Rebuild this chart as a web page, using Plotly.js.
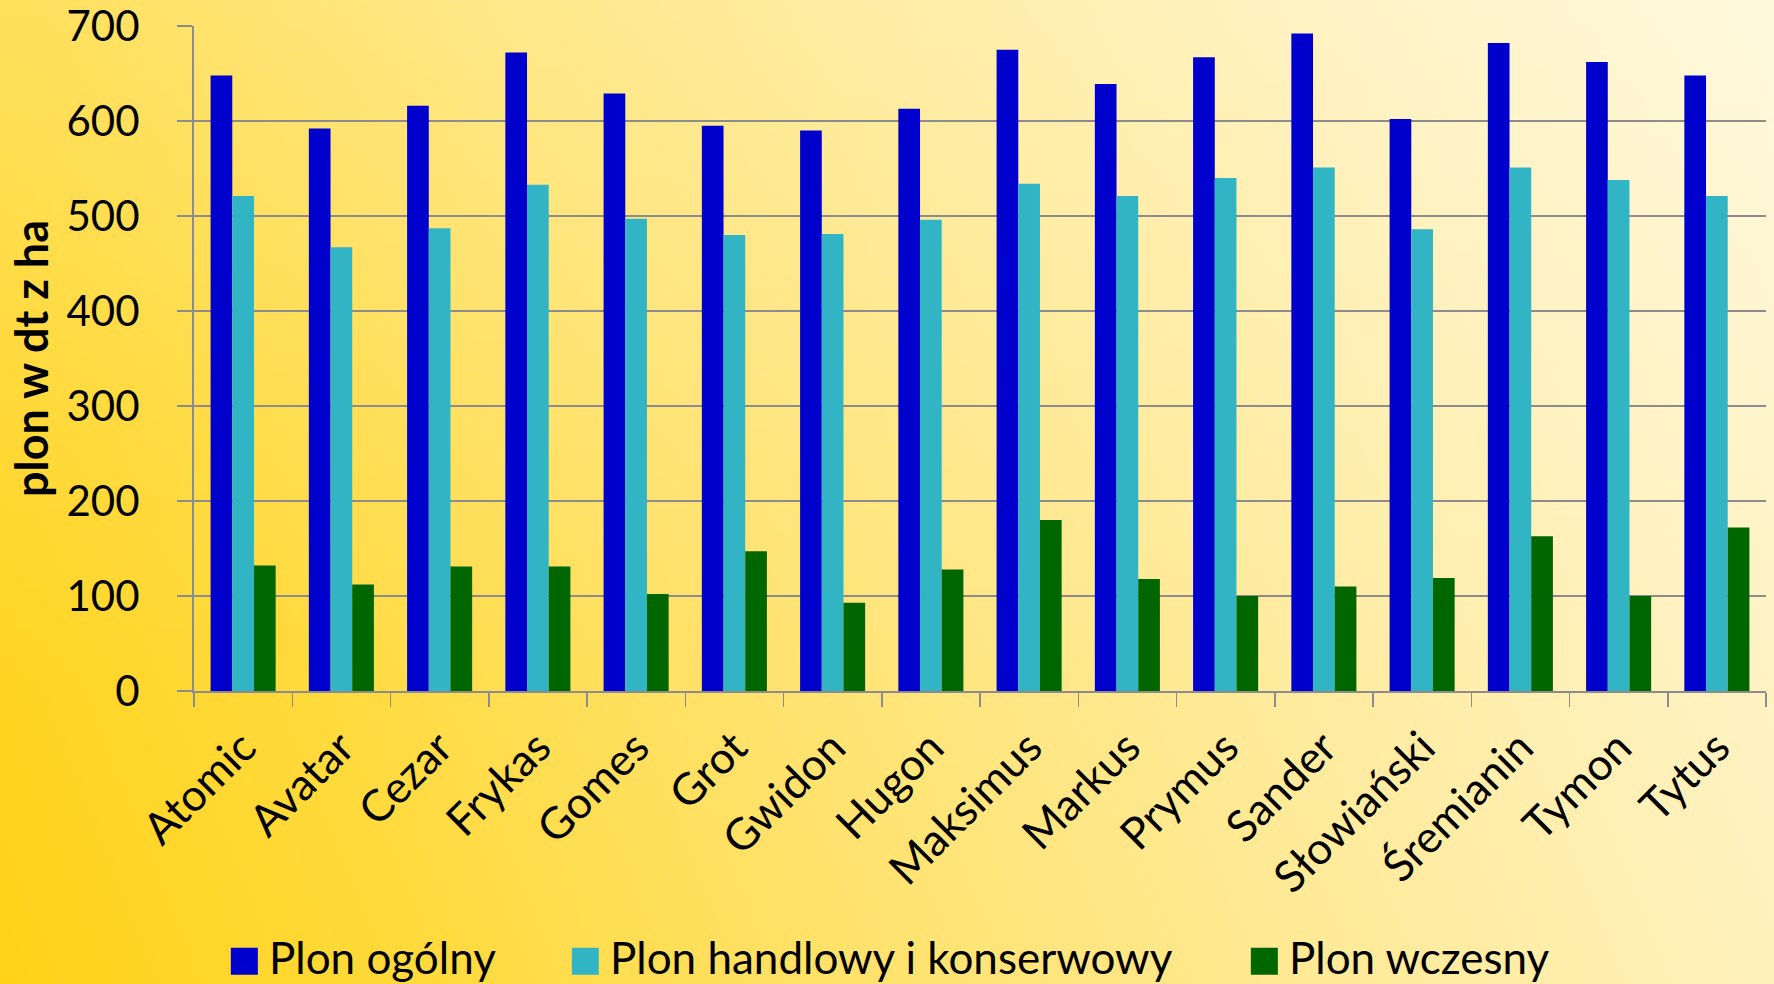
<!DOCTYPE html>
<html>
<head>
<meta charset="utf-8">
<script src="https://cdn.plot.ly/plotly-3.0.1.min.js"></script>
<style>
  html, body { margin: 0; padding: 0; width: 1774px; height: 984px; overflow: hidden; }
  body {
    background:
      linear-gradient(to bottom, rgba(255,255,255,0.18) 0%, rgba(255,255,255,0.05) 45%, rgba(255,255,255,0) 70%),
      linear-gradient(68deg, #FFD218 0%, #FFDA3C 20%, #FFE26C 40%, #FFEA98 62%, #FFF1BC 82%, #FFF6D4 100%);
  }
  #chart { width: 1774px; height: 984px; }
</style>
</head>
<body>
<div id="chart"></div>
<script>
const categories = ["Atomic", "Avatar", "Cezar", "Frykas", "Gomes", "Grot", "Gwidon", "Hugon",
  "Maksimus", "Markus", "Prymus", "Sander", "Słowiański", "Śremianin", "Tymon", "Tytus"];
const seriesNames = ["Plon ogólny", "Plon handlowy i konserwowy", "Plon wczesny"];
const plonOgolny = [648, 592, 616, 672, 629, 595, 590, 613, 675, 639, 667, 692, 602, 682, 662, 648];
const plonHandlowy = [521, 467, 487, 533, 497, 480, 481, 496, 534, 521, 540, 551, 486, 551, 538, 521];
const plonWczesny = [132, 112, 131, 131, 102, 147, 93, 128, 180, 118, 100, 110, 119, 163, 100, 172];
const yTitle = "plon w dt z ha";

const FONT = "Lato, 'Open Sans', sans-serif";
const colors = ["#0000CC", "#31B5C5", "#006600"];
const values = [plonOgolny, plonHandlowy, plonWczesny];
const legendIds = ["legend", "legend2", "legend3"];

const traces = values.map((v, i) => ({
  type: "bar",
  name: seriesNames[i],
  x: categories,
  y: v,
  marker: { color: colors[i], line: { width: 0 } },
  legend: legendIds[i],
  hoverinfo: "x+y+name"
}));

const legendBase = {
  orientation: "h",
  xref: "container", yref: "container",
  xanchor: "left", yanchor: "middle",
  y: 0.02675,
  bgcolor: "rgba(0,0,0,0)",
  borderwidth: 0,
  itemwidth: 39.3,
  font: { family: FONT, size: 44, color: "#000" },
  itemclick: false, itemdoubleclick: false
};

const layout = {
  width: 1774, height: 984,
  margin: { l: 194, r: 8, t: 26, b: 293, autoexpand: false },
  paper_bgcolor: "rgba(0,0,0,0)",
  plot_bgcolor: "rgba(0,0,0,0)",
  barmode: "group",
  bargap: 0.338,
  bargroupgap: 0,
  font: { family: FONT, color: "#000" },
  xaxis: {
    type: "category",
    tickangle: -45,
    tickson: "boundaries",
    ticks: "outside",
    ticklen: 14,
    tickwidth: 1.5,
    tickcolor: "#8c8c8c",
    showline: true,
    linecolor: "#8c8c8c",
    linewidth: 2,
    showgrid: false,
    tickfont: { family: FONT, size: 44, color: "#000" },
    ticklabelstandoff: 11,
    ticklabeloverflow: "allow"
  },
  yaxis: {
    range: [0, 700],
    dtick: 100,
    tick0: 0,
    ticks: "outside",
    ticklen: 15,
    tickwidth: 2,
    tickcolor: "#8c8c8c",
    showline: true,
    linecolor: "#8c8c8c",
    linewidth: 2,
    showgrid: true,
    gridcolor: "#8c8c8c",
    gridwidth: 2,
    zeroline: false,
    tickfont: { family: FONT, size: 42, color: "#000" },
    ticklabelstandoff: 29,
    ticklabeloverflow: "allow",
    title: { text: "<b>" + yTitle + "</b>", font: { family: FONT, size: 45, color: "#000" }, standoff: 4 }
  },
  legend: Object.assign({}, legendBase, { x: 219.7 / 1774 }),
  legend2: Object.assign({}, legendBase, { x: 560.7 / 1774 }),
  legend3: Object.assign({}, legendBase, { x: 1239.7 / 1774 }),
  showlegend: true
};

Plotly.newPlot("chart", traces, layout, { staticPlot: true, displayModeBar: false }).then(() => {
  document.querySelectorAll(".legendpoints path").forEach(p => {
    p.setAttribute("d", "M13.5,17.5H-13.5V-9.5H13.5Z");
  });
});
</script>
</body>
</html>
